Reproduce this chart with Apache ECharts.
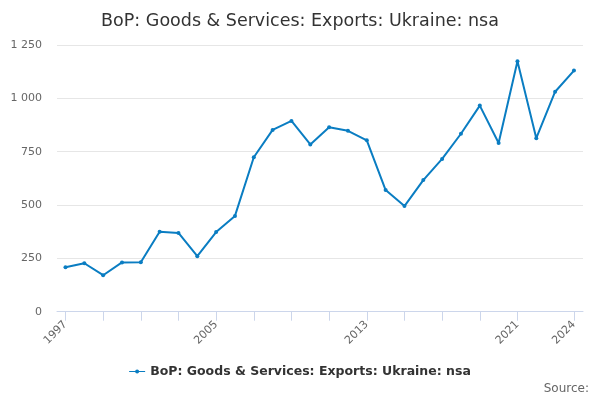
<!DOCTYPE html>
<html>
<head>
<meta charset="utf-8">
<script src="https://cdn.jsdelivr.net/npm/echarts@6/dist/echarts.min.js"></script>
<style>html,body{margin:0;padding:0;background:#fff}#c{width:600px;height:400px}</style>
</head>
<body>
<div id="c"></div>
<script>
var years = [1997,1998,1999,2000,2001,2002,2003,2004,2005,2006,2007,2008,2009,2010,2011,2012,2013,2014,2015,2016,2017,2018,2019,2020,2021,2022,2023,2024];
var exportsValues = [208,227,171,231,232,375,369,260,373,449,724,852,894,784,864,848,803,570,495,617,716,834,966,791,1174,813,1031,1130];
var xTickYears = [1997,1999,2001,2003,2005,2007,2009,2011,2013,2015,2017,2019,2021,2024];
var xLabelYears = [1997,2005,2013,2021,2024];
var seriesName = 'BoP: Goods & Services: Exports: Ukraine: nsa';

var font = '"DejaVu Sans", sans-serif';
var chart = echarts.init(document.getElementById('c'), null, {renderer: 'canvas'});
chart.setOption({
  animation: false,
  title: {
    text: seriesName,
    left: 'center', top: 7,
    textStyle: {fontFamily: font, fontSize: 17.5, fontWeight: 'normal', color: '#333'}
  },
  graphic: [{
    type: 'text', right: 11, top: 383,
    style: {text: 'Source:', fontFamily: font, fontSize: 12, fill: '#666'}
  }],
  legend: {
    bottom: 17, left: 'center',
    itemWidth: 16, itemHeight: 6, itemGap: 10,
    icon: 'path://M0,2.4 L16,2.4 L16,3.6 L0,3.6 Z M8,1 A2,2 0 1 1 7.99,1 Z',
    textStyle: {fontFamily: font, fontSize: 12.5, fontWeight: 'bold', color: '#333'},
    data: [seriesName]
  },
  grid: {left: 57, right: 17, top: 45, bottom: 88.3, containLabel: false},
  xAxis: {
    type: 'value', min: 1996.55, max: 2024.48,
    splitLine: {show: false},
    axisLine: {show: true, lineStyle: {color: '#ccd6eb', width: 1}},
    axisTick: {show: true, length: 9, lineStyle: {color: '#ccd6eb', width: 1}, customValues: xTickYears},
    axisLabel: {
      customValues: xLabelYears, rotate: 45, margin: 11,
      fontFamily: font, fontSize: 11, color: '#666',
      formatter: function (v) { return String(Math.round(v)); }
    }
  },
  yAxis: {
    type: 'value', min: 0, max: 1250, interval: 250,
    axisLine: {show: false}, axisTick: {show: false},
    splitLine: {lineStyle: {color: '#e6e6e6', width: 1}},
    axisLabel: {
      fontFamily: font, fontSize: 11, color: '#666', margin: 15,
      formatter: function (v) { return String(v).replace(/\B(?=(\d{3})+(?!\d))/g, ' '); }
    }
  },
  series: [{
    name: seriesName, type: 'line',
    data: years.map(function (y, i) { return [y, exportsValues[i]]; }),
    symbol: 'circle', symbolSize: 4, showSymbol: true,
    lineStyle: {color: '#0a7dc2', width: 2},
    itemStyle: {color: '#0a7dc2'}
  }]
});
</script>
</body>
</html>
